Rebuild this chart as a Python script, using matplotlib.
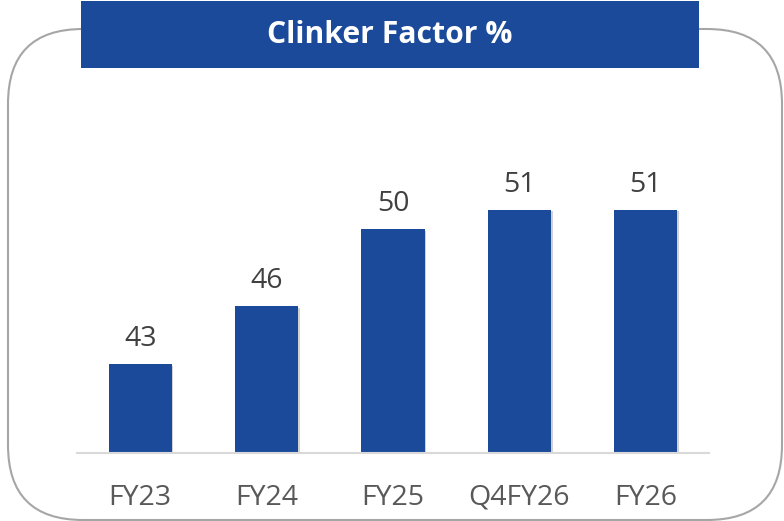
import matplotlib.pyplot as plt
import matplotlib.patheffects as pe
from matplotlib.patches import FancyBboxPatch, Rectangle

# clinker factor by period
periods = ["FY23", "FY24", "FY25", "Q4FY26", "FY26"]
clinker = [43, 46, 50, 51, 51]

blue = "#1B4A9B"

fig = plt.figure(figsize=(7.84, 5.21), dpi=100)

# background layer in pixel units: rounded frame + title banner
bg = fig.add_axes([0, 0, 1, 1], zorder=0)
bg.set_xlim(0, 784)
bg.set_ylim(521, 0)
bg.axis("off")
frame = FancyBboxPatch((8, 29), 774, 491, boxstyle="round,pad=0,rounding_size=75",
                       facecolor="white", edgecolor="#A6A6A6", linewidth=1.5)
bg.add_patch(frame)
bg.add_patch(Rectangle((81, 1), 618, 67, facecolor=blue, edgecolor="none"))
bg.text(390, 35, "Clinker Factor %", color="white", fontsize=21.7, fontweight="bold",
        family="Open Sans", ha="center", va="center")

# bar chart
ax = fig.add_axes([77 / 784, 68 / 521, 632 / 784, 303 / 521], zorder=1)
ax.patch.set_alpha(0)
x = range(len(periods))
bars = ax.bar(x, clinker, width=0.5, color=blue, zorder=2)
for b in bars:
    b.set_path_effects([pe.SimplePatchShadow(offset=(1.2, -1.2), shadow_rgbFace="#808080", alpha=0.35),
                        pe.Normal()])

ax.set_xlim(-0.5, 4.5)
ax.set_ylim(38.4, 38.4 + 303 / 19.3)

for xi, v in zip(x, clinker):
    ax.annotate(f"{v}", (xi, v), xytext=(0, 13), textcoords="offset points",
                ha="center", va="baseline", fontsize=20.5, color="#404040", family="Open Sans")

ax.set_xticks(list(x))
ax.set_xticklabels(periods, fontsize=20.5, color="#595959", family="Open Sans")
ax.tick_params(axis="x", length=0, pad=22)
ax.set_yticks([])
for s in ["top", "left", "right"]:
    ax.spines[s].set_visible(False)
ax.spines["bottom"].set_color("#D9D9D9")
ax.spines["bottom"].set_linewidth(1.5)

fig.savefig("out.png", dpi=100)
